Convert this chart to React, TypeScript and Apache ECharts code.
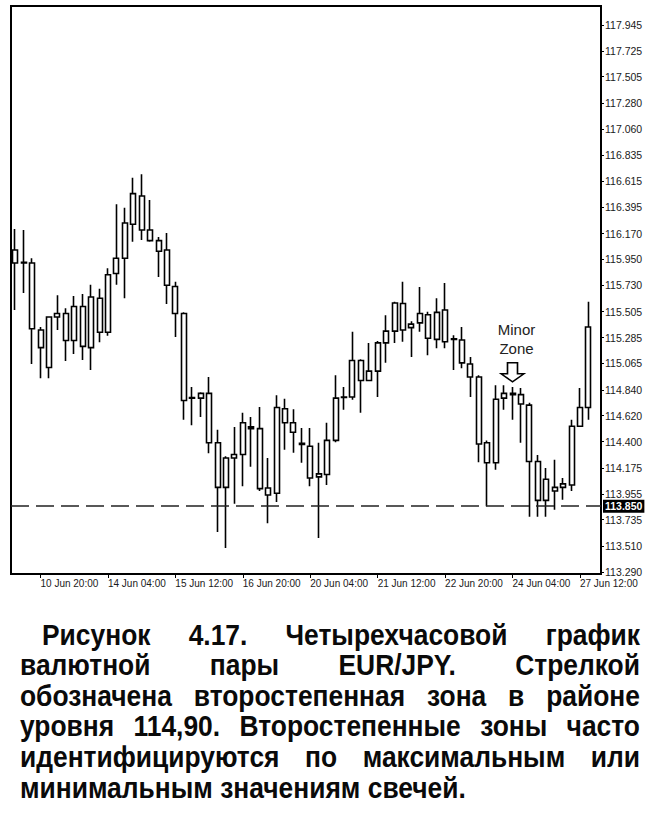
import React, { useEffect, useRef } from "react";
import * as echarts from "echarts";

// 4-hour candles, EUR/JPY
const categories = [
  "10 Jun 08:00", "10 Jun 12:00", "10 Jun 16:00", "10 Jun 20:00",
  "13 Jun 00:00", "13 Jun 04:00", "13 Jun 08:00", "13 Jun 12:00", "13 Jun 16:00", "13 Jun 20:00",
  "14 Jun 00:00", "14 Jun 04:00", "14 Jun 08:00", "14 Jun 12:00", "14 Jun 16:00", "14 Jun 20:00",
  "15 Jun 00:00", "15 Jun 04:00", "15 Jun 08:00", "15 Jun 12:00", "15 Jun 16:00", "15 Jun 20:00",
  "16 Jun 00:00", "16 Jun 04:00", "16 Jun 08:00", "16 Jun 12:00", "16 Jun 16:00", "16 Jun 20:00",
  "17 Jun 00:00", "17 Jun 04:00", "17 Jun 08:00", "17 Jun 12:00", "17 Jun 16:00", "17 Jun 20:00",
  "20 Jun 00:00", "20 Jun 04:00", "20 Jun 08:00", "20 Jun 12:00", "20 Jun 16:00", "20 Jun 20:00",
  "21 Jun 00:00", "21 Jun 04:00", "21 Jun 08:00", "21 Jun 12:00", "21 Jun 16:00", "21 Jun 20:00",
  "22 Jun 00:00", "22 Jun 04:00", "22 Jun 08:00", "22 Jun 12:00", "22 Jun 16:00", "22 Jun 20:00",
  "23 Jun 00:00", "23 Jun 04:00", "23 Jun 08:00", "23 Jun 12:00", "23 Jun 16:00", "23 Jun 20:00",
  "24 Jun 00:00", "24 Jun 04:00", "24 Jun 08:00", "24 Jun 12:00", "24 Jun 16:00", "24 Jun 20:00",
  "27 Jun 00:00", "27 Jun 04:00", "27 Jun 08:00", "27 Jun 12:00", "27 Jun 16:00", "27 Jun 20:00",
];

const opens = [
  116.03, 115.925, 115.92, 115.35, 115.03, 115.46, 115.49, 115.26, 115.55, 115.2,
  115.62, 115.33, 115.83, 115.96, 116.25, 116.49, 116.2, 116.11, 116.03, 115.72,
  115.49, 114.77, 114.77, 114.81, 114.39, 114.01, 114.26, 114.29, 114.525, 114.51,
  114.005, 113.96, 114.68, 114.56, 114.385, 114.36, 114.1, 114.12, 114.41, 114.775,
  114.78, 115.09, 114.92, 115.0, 115.24, 115.34, 115.575, 115.37, 115.41, 115.48,
  115.27, 115.52, 115.27, 115.265, 115.06, 114.95, 114.39, 114.22, 114.77, 114.81,
  114.8, 114.71, 114.23, 113.9, 114.01, 114.01, 114.03, 114.53, 114.69,
];
const closes = [
  115.92, 115.92, 115.36, 115.2, 115.46, 115.49, 115.26, 115.55, 115.21, 115.63,
  115.33, 115.82, 115.96, 116.26, 116.51, 116.2, 116.11, 116.02, 115.73, 115.49,
  114.75, 114.775, 114.81, 114.39, 114.01, 114.26, 114.29, 114.56, 114.51, 114.0,
  113.945, 114.69, 114.56, 114.48, 114.375, 114.09, 114.125, 114.41, 114.77, 114.78,
  115.09, 114.92, 115.0, 115.24, 115.34, 115.58, 115.35, 115.4, 115.49, 115.28,
  115.5, 115.25, 115.275, 115.07, 114.95, 114.38, 114.22, 114.76, 114.81, 114.8,
  114.72, 114.23, 113.9, 114.08, 113.98, 114.04, 114.53, 114.69, 115.375,
];
const lows = [
  115.52, 115.665, 115.06, 114.94, 114.94, 115.35, 115.085, 115.145, 115.095, 115.01,
  115.245, 115.3, 115.735, 115.62, 116.1, 116.115, 116.1, 115.8, 115.57, 115.29,
  114.585, 114.54, 114.61, 114.3, 113.63, 113.495, 113.87, 114.02, 114.185, 113.98,
  113.705, 113.885, 114.33, 114.305, 114.22, 114.02, 113.58, 114.03, 114.395, 114.67,
  114.755, 114.645, 114.915, 114.78, 115.07, 115.24, 115.25, 115.12, 115.335, 115.135,
  115.195, 115.195, 115.01, 115.025, 114.78, 114.225, 113.85, 114.16, 114.67, 114.585,
  114.39, 113.76, 113.76, 113.76, 113.82, 113.905, 113.98, 114.525, 114.585,
];
const highs = [
  116.21, 116.2, 115.96, 115.375, 115.465, 115.645, 115.535, 115.64, 115.655, 115.735,
  115.7, 115.875, 116.42, 116.39, 116.645, 116.675, 116.455, 116.14, 116.175, 115.76,
  115.5, 114.865, 114.82, 114.95, 114.5, 114.275, 114.525, 114.645, 114.61, 114.695,
  114.26, 114.795, 114.765, 114.675, 114.515, 114.515, 114.39, 114.56, 114.965, 114.865,
  115.335, 115.1, 115.24, 115.255, 115.475, 115.59, 115.76, 115.425, 115.715, 115.505,
  115.62, 115.75, 115.305, 115.375, 115.12, 114.965, 114.41, 114.88, 114.88, 114.865,
  114.855, 114.73, 114.285, 114.175, 114.245, 114.09, 114.585, 114.855, 115.59,
];

const yTickValues = [
  113.29, 113.51, 113.735, 113.955, 114.175, 114.4, 114.62, 114.84, 115.065, 115.285, 115.505,
  115.73, 115.95, 116.17, 116.395, 116.615, 116.835, 117.06, 117.28, 117.505, 117.725, 117.945,
];

const supportLevel = 113.85;
const zoneCategory = "24 Jun 04:00";
const zoneArrowPrice = 114.99;
const zoneLabelPrice = 115.277;

const captionLines = [
  "Рисунок 4.17. Четырехчасовой график",
  "валютной пары EUR/JPY. Стрелкой",
  "обозначена второстепенная зона в районе",
  "уровня 114,90. Второстепенные зоны часто",
  "идентифицируются по максимальным или",
  "минимальным значениям свечей.",
];

export default function App() {
  const ref = useRef<HTMLDivElement>(null);
  useEffect(() => {
    const el = ref.current!;
    const chart = echarts.init(el, null, { renderer: "svg" });

    const candles = opens.map((o, i) => [o, closes[i], lows[i], highs[i]]);

    // caption, justified word by word
    const capSize = 30;
    const capFamily = '"Liberation Sans", Arial, sans-serif';
    const capScale = 0.88;
    const ctx = document.createElement("canvas").getContext("2d")!;
    ctx.font = `bold ${capSize}px ${capFamily}`;
    const measure = (s: string) => ctx.measureText(s).width * capScale;
    const capElements: any[] = [];
    captionLines.forEach((line, li) => {
      const words = line.split(" ");
      const left = li === 0 ? 42 : 20;
      const right = 640;
      const y = 634 + li * 30.6;
      const widths = words.map(measure);
      const total = widths.reduce((a, b) => a + b, 0);
      const justify = li < captionLines.length - 1 && words.length > 1;
      const gap = justify ? (right - left - total) / (words.length - 1) : measure(" ");
      let x = left;
      words.forEach((w, wi) => {
        capElements.push({
          type: "text",
          x,
          y,
          scaleX: capScale,
          silent: true,
          style: {
            text: w,
            fontSize: capSize,
            fontWeight: "bold",
            fontFamily: capFamily,
            fill: "#0a0a0a",
            textAlign: "left",
            verticalAlign: "middle",
          },
        });
        x += widths[wi] + gap;
      });
    });

    const showLabel = (index: number) => index >= 3 && (index - 3) % 8 === 0;

    const option: any = {
      animation: false,
      backgroundColor: "#fff",
      grid: {
        left: 11,
        top: 6,
        width: 590,
        height: 568,
        show: true,
        borderColor: "#000",
        borderWidth: 2,
        backgroundColor: "#fff",
      },
      xAxis: {
        type: "category",
        data: categories,
        boundaryGap: true,
        axisLine: { show: true, lineStyle: { color: "#000", width: 2 } },
        axisTick: {
          show: true,
          interval: (i: number) => showLabel(i),
          alignWithLabel: true,
          length: 4,
          lineStyle: { color: "#000" },
        },
        axisLabel: {
          interval: (i: number) => showLabel(i),
          align: "left",
          margin: 4,
          fontSize: 10,
          fontFamily: '"Liberation Sans", Arial, sans-serif',
          color: "#1a1a1a",
        },
        splitLine: { show: false },
      },
      yAxis: {
        type: "value",
        position: "right",
        min: 113.273,
        max: 118.107,
        axisLine: { show: true, lineStyle: { color: "#000", width: 2 } },
        axisTick: { show: true, length: 3, customValues: yTickValues, lineStyle: { color: "#000" } },
        axisLabel: {
          customValues: yTickValues,
          formatter: (v: number) => v.toFixed(3),
          margin: 4,
          fontSize: 10.5,
          fontFamily: '"Liberation Sans", Arial, sans-serif',
          color: "#1a1a1a",
        },
        splitLine: { show: false },
      },
      series: [
        {
          type: "candlestick",
          data: candles,
          barWidth: 5.5,
          itemStyle: {
            color: "#fff",
            color0: "#fff",
            borderColor: "#000",
            borderColor0: "#000",
            borderColorDoji: "#000",
            borderWidth: 1.6,
          },
          emphasis: { disabled: true },
          markLine: {
            silent: true,
            symbol: ["none", "none"],
            lineStyle: { color: "#222", type: [18, 7], width: 1.6 },
            label: {
              show: true,
              position: "end",
              distance: 2,
              formatter: supportLevel.toFixed(3),
              backgroundColor: "#000",
              color: "#fff",
              padding: [1, 2],
              fontSize: 10.5,
              fontWeight: "bold",
              fontFamily: '"Liberation Sans", Arial, sans-serif',
            },
            data: [{ yAxis: supportLevel }],
          },
          markPoint: {
            silent: true,
            data: [
              {
                coord: [zoneCategory, zoneArrowPrice],
                symbol: "path://M6.5,0 L16.5,0 L16.5,11 L23,11 L11.5,19 L0,11 L6.5,11 Z",
                symbolSize: [23, 19],
                symbolKeepAspect: false,
                itemStyle: { color: "#fff", borderColor: "#000", borderWidth: 1.5 },
                label: { show: false },
              },
              {
                coord: [zoneCategory, zoneLabelPrice],
                symbol: "rect",
                symbolSize: 1,
                itemStyle: { color: "rgba(0,0,0,0)" },
                label: {
                  show: true,
                  position: "inside",
                  offset: [4, 0],
                  formatter: "Minor\nZone",
                  fontSize: 15,
                  lineHeight: 19,
                  fontFamily: '"Liberation Sans", Arial, sans-serif',
                  color: "#222",
                },
              },
            ],
          },
        },
      ],
      graphic: capElements,
    };

    chart.setOption(option);
    return () => chart.dispose();
  }, []);

  return (
    <div
      ref={ref}
      style={{ position: "fixed", left: 0, top: 0, width: 650, height: 822, background: "#fff" }}
    />
  );
}
